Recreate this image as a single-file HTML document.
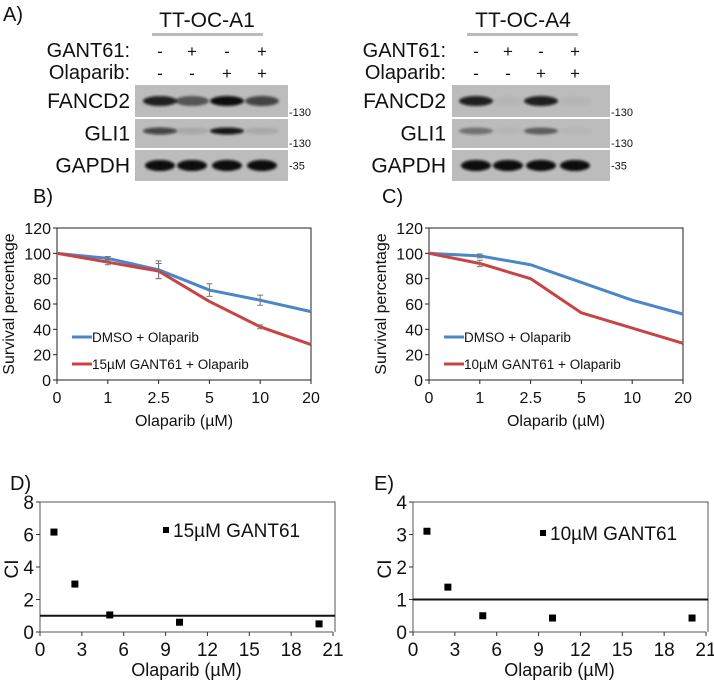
<!DOCTYPE html>
<html><head><meta charset="utf-8"><style>
body{margin:0;background:#fff;}
svg text{font-family:"Liberation Sans",Arial,sans-serif;fill:#111;}
</style></head><body>
<svg id="fig" width="714" height="681" xmlns="http://www.w3.org/2000/svg">
<defs>
<filter id="blur" x="-20%" y="-50%" width="140%" height="200%"><feGaussianBlur stdDeviation="1.3"/></filter>
</defs>
<text x="3" y="21" font-size="20">A)</text>
<text x="33" y="203" font-size="20">B)</text>
<text x="382" y="203" font-size="20">C)</text>
<text x="10" y="490" font-size="20">D)</text>
<text x="374" y="490" font-size="20">E)</text>
<g id="blots"></g>
<g id="lines"></g>
<g id="scatter"></g>
</svg>
<script>
const NS='http://www.w3.org/2000/svg';
const svg=document.getElementById('fig');
function mk(tag,attrs,parent,txt){const e=document.createElementNS(NS,tag);for(const k in attrs)e.setAttribute(k,attrs[k]);if(txt!==undefined)e.textContent=txt;(parent||svg).appendChild(e);return e;}

// ---- Western blots ----
const gant=['-','+','-','+'];
const olap=['-','-','+','+'];
const bandA1F=[0.9,0.55,1,0.7];
const bandA1G=[0.7,0.1,0.95,0.1];
const bandA1P=[1,1,1,1];
const bandA4F=[0.9,0.03,0.9,0.03];
const bandA4G=[0.4,0.03,0.5,0.03];
const bandA4P=[1,1,1,1];
function blot(cfg){
  const g=mk('g',{},document.getElementById('blots'));
  
  
  const t=mk('text',{x:cfg.cx,y:27,'font-size':21,'text-anchor':'middle'},g,cfg.title);
  
  
  mk('rect',{x:cfg.barX0,y:33,width:cfg.barX1-cfg.barX0,height:3,fill:'#bbb'},g);
  mk('text',{x:cfg.lblX,y:57,'font-size':20,'text-anchor':'end'},g,'GANT61:');
  mk('text',{x:cfg.lblX,y:79,'font-size':20,'text-anchor':'end'},g,'Olaparib:');
  cfg.lanes.forEach((lx,i)=>{
    mk('text',{x:lx,y:57,'font-size':17,'text-anchor':'middle'},g,gant[i]);
    mk('text',{x:lx,y:79,'font-size':17,'text-anchor':'middle'},g,olap[i]);
  });
  const rows=[['FANCD2',85,117,cfg.f,'-130'],['GLI1',119,148,cfg.gl,'-130'],['GAPDH',150,181,cfg.p,'-35']];
  rows.forEach((r,ri)=>{
    const [nm,y0,y1,vals,mw]=r;
    mk('rect',{x:cfg.bx0,y:y0,width:cfg.bx1-cfg.bx0,height:y1-y0,fill:'#bcbcbc'},g);
    mk('text',{x:cfg.lblX,y:(y0+y1)/2+7,'font-size':21,'text-anchor':'end'},g,nm);
    const by=ri==1?(y0+12):(y0+y1)/2;
    vals.forEach((v,i)=>{
      mk('ellipse',{cx:cfg.lanes[i],cy:by,rx:ri==2?15:17,ry:ri==1?3.5:ri==2?5.5:5,fill:'#0a0a0a','fill-opacity':v,filter:'url(#blur)'},g);
    });
    mk('text',{x:cfg.bx1+1,y:ri==2?(y0+y1)/2+4:y1-1,'font-size':11},g,mw);
  });
}
blot({name:'blot-tt-oc-a1',title:'TT-OC-A1',cx:207,barX0:152,barX1:263,lblX:130,lanes:[160,192,227,262],bx0:135,bx1:288,f:bandA1F,gl:bandA1G,p:bandA1P});
blot({name:'blot-tt-oc-a4',title:'TT-OC-A4',cx:523,barX0:467,barX1:578,lblX:446,lanes:[476,508,541,575],bx0:452,bx1:610,f:bandA4F,gl:bandA4G,p:bandA4P});

// ---- Survival line charts ----
const doseLabels=['0','1','2.5','5','10','20'];
const yTicksSurv=[0,20,40,60,80,100,120];
const bDmso=[100,96,87,71,63,54];
const bGant=[100,93,86,62,42,28];
const bDmsoErr=[0,1.5,7,5,4,0];
const bGantErr=[0,2,6,0,1.5,0];
const cDmso=[100,98,91,77,63,52];
const cGant=[100,92,80,53,41,29];
const cDmsoErr=[0,1.5,0,0,0,0];
const cGantErr=[0,2.5,0,0,0,0];
function surv(cfg){
  const g=mk('g',{},document.getElementById('lines'));
  
  
  const X=i=>cfg.x0+(cfg.x1-cfg.x0)*i/(doseLabels.length-1);
  const Y=v=>380-(380-228)*v/120;
  mk('rect',{x:cfg.x0,y:Y(120),width:cfg.x1-cfg.x0,height:Y(0)-Y(120),fill:'none',stroke:'#222','stroke-width':1},g);
  yTicksSurv.forEach(t=>{
    mk('line',{x1:cfg.x0-4,x2:cfg.x0,y1:Y(t),y2:Y(t),stroke:'#222'},g);
    const tx=mk('text',{x:cfg.x0-6,y:Y(t)+6,'font-size':16,'text-anchor':'end'},g,String(t));
    
    
  });
  doseLabels.forEach((d,i)=>{
    mk('line',{x1:X(i),x2:X(i),y1:380,y2:384,stroke:'#222'},g);
    const tx=mk('text',{x:X(i),y:403,'font-size':16,'text-anchor':'middle'},g,d);
    
    
  });
  const xt=mk('text',{x:(cfg.x0+cfg.x1)/2,y:426,'font-size':16,'text-anchor':'middle'},g,'Olaparib (µM)');
  
  
  const yt=mk('text',{x:0,y:0,'font-size':16,'text-anchor':'middle',transform:`translate(${cfg.x0-43},${Y(60)}) rotate(-90)`},g,'Survival percentage');
  
  
  [[cfg.d,cfg.de,'#4a86c8','dmso-line'],[cfg.gn,cfg.ge,'#c84444','gant61-line']].forEach(([vals,err,col,nm])=>{
    const p=mk('polyline',{points:vals.map((v,i)=>X(i)+','+Y(v)).join(' '),fill:'none',stroke:col,'stroke-width':3,'stroke-linejoin':'round'},g);
    
    
    vals.forEach((v,i)=>{ if(err[i]>0){
      const e=mk('path',{d:`M${X(i)},${Y(v+err[i])}V${Y(v-err[i])}M${X(i)-3},${Y(v+err[i])}h6M${X(i)-3},${Y(v-err[i])}h6`,stroke:'#777','stroke-width':1,fill:'none'},g);
      
      
    }});
  });
  const lx=cfg.x0+15;
  mk('line',{x1:lx,x2:lx+20,y1:337,y2:337,stroke:'#4a86c8','stroke-width':3},g);
  mk('text',{x:lx+20,y:342,'font-size':13.5},g,'DMSO + Olaparib');
  mk('line',{x1:lx,x2:lx+20,y1:364,y2:364,stroke:'#c84444','stroke-width':3},g);
  mk('text',{x:lx+20,y:369,'font-size':13.5},g,cfg.leg);
}
surv({name:'chart-b-survival',x0:57,x1:311,d:bDmso,gn:bGant,de:bDmsoErr,ge:bGantErr,leg:'15µM GANT61 + Olaparib'});
surv({name:'chart-c-survival',x0:429,x1:683,d:cDmso,gn:cGant,de:cDmsoErr,ge:cGantErr,leg:'10µM GANT61 + Olaparib'});

// ---- CI scatter charts ----
const ciDoses=[1,2.5,5,10,20];
const dCI=[6.15,2.95,1.05,0.6,0.5];
const eCI=[3.1,1.38,0.5,0.43,0.43];
const xTicksCI=[0,3,6,9,12,15,18,21];
const dYTicks=[0,2,4,6,8];
const eYTicks=[0,1,2,3,4];
function ci(cfg){
  const g=mk('g',{},document.getElementById('scatter'));
  
  
  const X=v=>cfg.x0+(cfg.x1-cfg.x0)*v/21;
  const Y=v=>632-(632-502)*v/cfg.ymax;
  mk('path',{d:`M${cfg.x0},${Y(cfg.ymax)}H${cfg.x1+2}V632M${cfg.x0},${Y(cfg.ymax)}V632H${cfg.x1}`,fill:'none',stroke:'#555'},g);
  cfg.yt.forEach(t=>{
    mk('line',{x1:cfg.x0-4,x2:cfg.x0,y1:Y(t),y2:Y(t),stroke:'#333'},g);
    const tx=mk('text',{x:cfg.x0-6,y:Y(t)+7,'font-size':19,'text-anchor':'end'},g,String(t));
    
    
  });
  xTicksCI.forEach(t=>{
    mk('line',{x1:X(t),x2:X(t),y1:632,y2:636,stroke:'#333'},g);
    const tx=mk('text',{x:X(t),y:656,'font-size':19,'text-anchor':'middle'},g,String(t));
    
    
  });
  const xt=mk('text',{x:(cfg.x0+cfg.x1)/2,y:676,'font-size':18,'text-anchor':'middle'},g,'Olaparib (µM)');
  
  
  const yt=mk('text',{x:0,y:0,'font-size':19,'text-anchor':'middle',transform:`translate(${cfg.x0-22},${Y(cfg.ymax/2)+2}) rotate(-90)`},g,'CI');
  
  
  const ref=mk('line',{x1:cfg.x0,x2:cfg.x1+2,y1:Y(1),y2:Y(1),stroke:'#111','stroke-width':2},g);
  
  
  cfg.vals.forEach((v,i)=>{
    const r=mk('rect',{x:X(ciDoses[i])-3.5,y:Y(v)-3.5,width:7,height:7,fill:'#000'},g);
    
    
  });
  mk('rect',{x:cfg.legX-3,y:cfg.legY-3,width:6,height:6,fill:'#000'},g);
  const lt=mk('text',{x:cfg.legX+7,y:cfg.legY+7,'font-size':19},g,cfg.leg);
  
  
}
ci({name:'chart-d-ci',x0:40,x1:333,ymax:8,vals:dCI,yt:dYTicks,leg:'15µM GANT61',legX:166,legY:530});
ci({name:'chart-e-ci',x0:413,x1:706,ymax:4,vals:eCI,yt:eYTicks,leg:'10µM GANT61',legX:543,legY:533});
</script>
</body></html>
